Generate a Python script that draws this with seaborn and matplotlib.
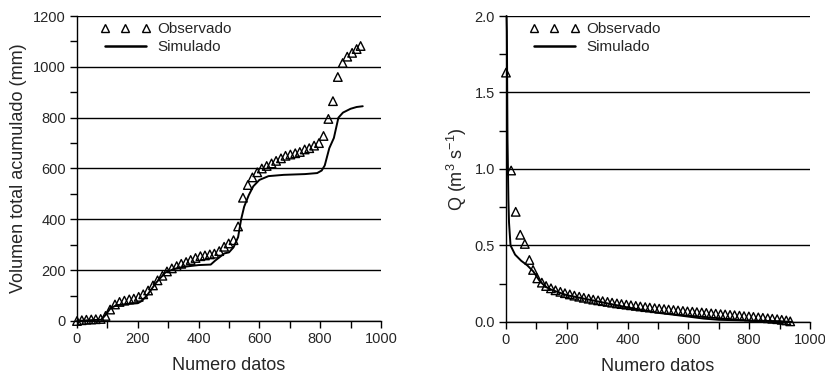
"""Observed vs simulated cumulative volume and discharge."""

import matplotlib

matplotlib.use("Agg")
import matplotlib.pyplot as plt
import numpy as np
import pandas as pd
import seaborn as sns
from matplotlib.lines import Line2D
from matplotlib.ticker import MultipleLocator

# --- left panel: cumulative volume (mm) ---
vol_obs_x = [0, 16, 31, 47, 62, 78, 94, 109, 125, 140, 156, 172, 187, 203, 218,
             234, 250, 265, 281, 296, 312, 328, 343, 359, 374, 390, 406, 421, 437,
             452, 468, 484, 499, 515, 530, 546, 562, 577, 593, 608, 624, 640, 655,
             671, 686, 702, 718, 733, 749, 764, 780, 796, 811, 827, 842, 858, 874,
             889, 905, 920, 933]
vol_obs_y = [0, 3, 5, 6, 7, 8, 20, 45, 65, 75, 80, 85, 88, 95, 105,
             120, 140, 160, 178, 195, 207, 216, 225, 232, 240, 248, 255, 258, 262,
             265, 275, 292, 305, 318, 372, 485, 535, 565, 585, 600, 610, 620, 630,
             640, 650, 655, 660, 665, 675, 680, 690, 700, 728, 795, 865, 960, 1015,
             1040, 1055, 1070, 1082]
vol_sim_x = [0, 40, 80, 95, 110, 130, 160, 200, 212, 230, 260, 290, 320, 350,
             400, 440, 455, 470, 485, 500, 515, 530, 540, 550, 565, 580, 600, 630,
             680, 750, 790, 805, 815, 830, 845, 860, 875, 900, 920, 940]
vol_sim_y = [0, 3, 5, 25, 50, 62, 66, 70, 78, 100, 150, 190, 205, 213,
             220, 222, 238, 252, 266, 270, 290, 330, 400, 450, 495, 530, 555, 570,
             575, 578, 582, 592, 612, 680, 720, 800, 820, 835, 842, 845]

# --- right panel: discharge (m3/s) ---
q_obs_x = [0, 17, 32, 47, 62, 77, 89, 103, 118, 132, 148, 163, 179, 194, 210,
           225, 241, 256, 272, 287, 303, 318, 334, 349, 365, 380, 396, 411, 427,
           442, 458, 473, 489, 504, 520, 535, 551, 566, 582, 597, 613, 628, 644,
           659, 675, 690, 706, 721, 737, 752, 768, 783, 799, 814, 830, 845, 861,
           876, 892, 907, 922, 935]
q_obs_y = [1.63, 0.99, 0.72, 0.57, 0.51, 0.405, 0.34, 0.285, 0.257, 0.235,
           0.22, 0.207, 0.197, 0.188, 0.18, 0.172, 0.165, 0.158, 0.152, 0.146,
           0.141, 0.136, 0.131, 0.126, 0.121, 0.117, 0.113, 0.109, 0.105,
           0.101, 0.097, 0.094, 0.09, 0.087, 0.084, 0.081, 0.078, 0.075, 0.072,
           0.069, 0.067, 0.064, 0.062, 0.059, 0.056, 0.054, 0.051, 0.049,
           0.046, 0.044, 0.041, 0.038, 0.036, 0.033, 0.03, 0.027, 0.024, 0.021,
           0.018, 0.014, 0.01, 0.004]
q_sim_x = [2, 3, 5, 8, 10, 15, 30, 50, 70, 90, 110, 130, 150, 200, 300, 400,
           500, 600, 650, 700, 800, 900, 940]
q_sim_y = [2.0, 1.9, 1.2, 0.8, 0.65, 0.5, 0.44, 0.40, 0.37, 0.33, 0.27, 0.23,
           0.21, 0.175, 0.135, 0.095, 0.06, 0.035, 0.022, 0.014, 0.009, 0.005,
           0.0]

sns.set_style("ticks")
plt.rcParams["font.family"] = ["Liberation Sans", "DejaVu Sans"]
plt.rcParams["mathtext.default"] = "regular"

fig = plt.figure(figsize=(8.25, 3.81), dpi=100)
ax1 = fig.add_axes([0.0933, 0.1575, 0.3685, 0.8005])
ax2 = fig.add_axes([0.6133, 0.155, 0.3685, 0.803])


def _panel(ax, obs_x, obs_y, sim_x, sim_y, ymax, ymajor, yminor, ylabel, fmt):
    obs = pd.DataFrame({"x": obs_x, "y": obs_y})
    sim = pd.DataFrame({"x": sim_x, "y": sim_y})
    sns.lineplot(data=sim, x="x", y="y", ax=ax, color="black", lw=1.4,
                 estimator=None, sort=False, zorder=3)
    sns.scatterplot(data=obs, x="x", y="y", ax=ax, marker="^", s=38,
                    facecolor="none", edgecolor="black", linewidth=1.0, zorder=4)
    for art in ax.collections + ax.lines:
        art.set_clip_on(False)
    ax.set_xlim(0, 1000)
    ax.set_ylim(0, ymax)
    ax.xaxis.set_major_locator(MultipleLocator(200))
    ax.xaxis.set_minor_locator(MultipleLocator(100))
    ax.yaxis.set_major_locator(MultipleLocator(ymajor))
    ax.yaxis.set_minor_locator(MultipleLocator(yminor))
    ax.yaxis.set_major_formatter(fmt)
    ax.grid(axis="y", which="major", color="black", lw=1.0)
    ax.set_axisbelow(True)
    sns.despine(ax=ax)
    for s in ("left", "bottom"):
        ax.spines[s].set_linewidth(1.0)
        ax.spines[s].set_color("black")
    ax.tick_params(which="both", direction="out", color="black", width=1.0)
    ax.tick_params(which="major", length=5, labelsize=10.5, pad=3)
    ax.tick_params(which="minor", length=5)
    ax.set_xlabel("Numero datos", fontsize=13, labelpad=8)
    ax.set_ylabel(ylabel, fontsize=13, labelpad=4)
    handles = [
        Line2D([], [], ls="none", marker="^", mfc="none", mec="black",
               ms=6, mew=1.0),
        Line2D([], [], color="black", lw=1.8),
    ]
    ax.legend(handles, ["Observado", "Simulado"], loc="upper left",
              bbox_to_anchor=(0.056, 1.0), borderaxespad=0, frameon=False,
              numpoints=3, fontsize=11, handlelength=3.3, handletextpad=0.45,
              labelspacing=0.25)


_panel(ax1, vol_obs_x, vol_obs_y, vol_sim_x, vol_sim_y, 1200, 200, 100,
       "Volumen total acumulado (mm)", "{x:.0f}")
_panel(ax2, q_obs_x, q_obs_y, q_sim_x, q_sim_y, 2.0, 0.5, 0.25,
       "Q (m$^{3}$ s$^{-1}$)", "{x:.1f}")

fig.savefig("out.png", dpi=100)
